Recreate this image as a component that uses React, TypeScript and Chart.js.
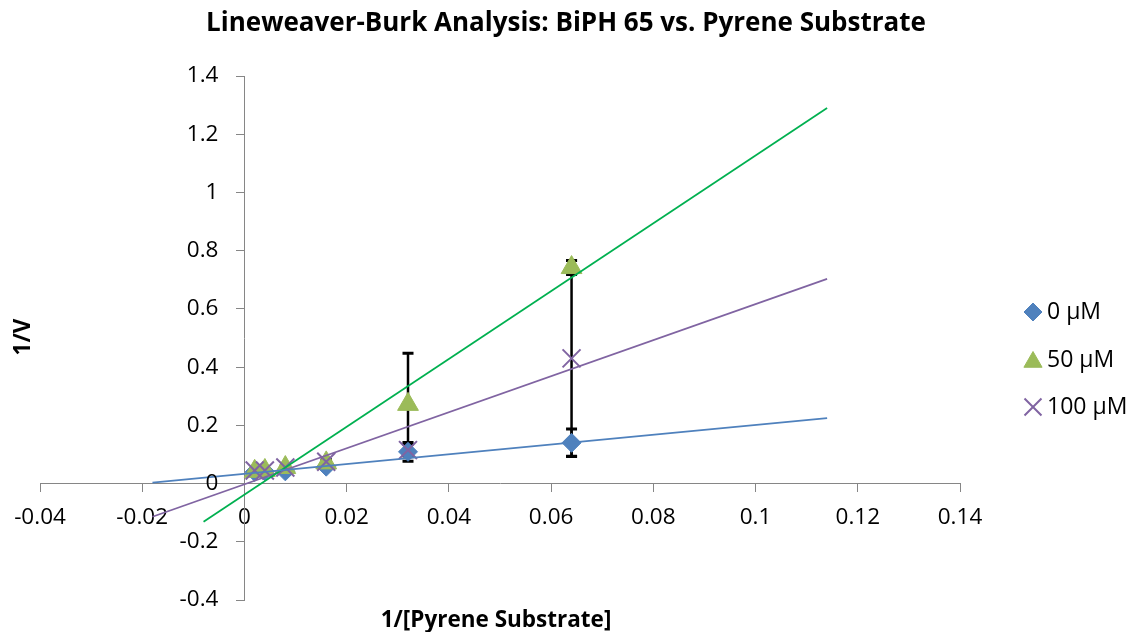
import React, { useEffect, useRef } from 'react';
import { Chart, registerables } from 'chart.js';
import { drawPoint } from 'chart.js/helpers';

Chart.register(...registerables);

// 1/[S] for each substrate concentration
const SUBSTRATE_INV = [0.002, 0.004, 0.008, 0.016, 0.032, 0.064];

// 1/V at each inhibitor concentration
const V_INV_0 = [0.040, 0.042, 0.042, 0.058, 0.109, 0.140];
const V_INV_50 = [0.042, 0.045, 0.055, 0.071, 0.272, 0.742];
const V_INV_100 = [0.045, 0.045, 0.055, 0.075, 0.115, 0.430];

// symmetric error (±) on 1/V
const ERR_0 = [0.003, 0.003, 0.004, 0.005, 0.032, 0.047];
const ERR_50 = [0.004, 0.004, 0.005, 0.008, 0.176, 0.024];
const ERR_100 = [0.004, 0.004, 0.005, 0.008, 0.020, 0.336];

// linear trendline end points (x range, fitted 1/V at each end)
const FIT_X_0 = [-0.018, 0.114];
const FIT_Y_0 = [0.003, 0.225];
const FIT_X_50 = [-0.008, 0.114];
const FIT_Y_50 = [-0.131, 1.29];
const FIT_X_100 = [-0.018, 0.114];
const FIT_Y_100 = [-0.114, 0.703];

const SERIES_NAMES = ['0 µM', '50 µM', '100 µM'];

const X_TICKS = [-0.04, -0.02, 0, 0.02, 0.04, 0.06, 0.08, 0.1, 0.12, 0.14];
const X_TICK_LABELS = ['-0.04', '-0.02', '0', '0.02', '0.04', '0.06', '0.08', '0.1', '0.12', '0.14'];
const Y_TICKS = [-0.4, -0.2, 0, 0.2, 0.4, 0.6, 0.8, 1, 1.2, 1.4];
const Y_TICK_LABELS = ['-0.4', '-0.2', '0', '0.2', '0.4', '0.6', '0.8', '1', '1.2', '1.4'];

const TITLE = 'Lineweaver-Burk Analysis: BiPH 65 vs. Pyrene Substrate';
const X_TITLE = '1/[Pyrene Substrate]';
const Y_TITLE = '1/V';

const FONT = '"Open Sans", "Noto Sans", sans-serif';
const AXIS_GREY = '#868686';

const BLUE = '#4F81BD';
const GREEN_MARK = '#9BBB59';
const GREEN_LINE = '#00B050';
const PURPLE = '#8064A2';

const TICK_LEN = 8;
const Y_LABEL_GAP = 18;

const toPoints = (xs: number[], ys: number[]) => xs.map((x, i) => ({ x, y: ys[i] }));

const MARKER_STYLES = [
  { pointStyle: 'rectRot', radius: 9.5, legendRadius: 9, color: BLUE, borderWidth: 1 },
  { pointStyle: 'triangle', radius: 12, legendRadius: 10.5, color: GREEN_MARK, borderWidth: 1 },
  { pointStyle: 'crossRot', radius: 12.7, legendRadius: 12, color: PURPLE, borderWidth: 2 },
];

const errorBarsPlugin = {
  id: 'errorBars',
  beforeDatasetsDraw(chart: any) {
    const { ctx, scales } = chart;
    const xs = scales.x;
    const ys = scales.y;
    ctx.save();
    ctx.strokeStyle = '#000';
    chart.data.datasets.forEach((ds: any) => {
      if (!ds.errors) return;
      ds.data.forEach((p: any, i: number) => {
        const e = ds.errors[i];
        const px = xs.getPixelForValue(p.x);
        const top = ys.getPixelForValue(p.y + e);
        const bot = ys.getPixelForValue(p.y - e);
        ctx.lineWidth = 2.5;
        ctx.beginPath();
        ctx.moveTo(px, top);
        ctx.lineTo(px, bot);
        ctx.stroke();
        ctx.lineWidth = 3;
        ctx.beginPath();
        ctx.moveTo(px - 5.5, top);
        ctx.lineTo(px + 5.5, top);
        ctx.moveTo(px - 5.5, bot);
        ctx.lineTo(px + 5.5, bot);
        ctx.stroke();
      });
    });
    ctx.restore();
  },
};

const textPlugin = {
  id: 'chartTexts',
  afterDraw(chart: any) {
    const { ctx, scales } = chart;
    ctx.save();
    ctx.fillStyle = '#000';
    ctx.textBaseline = 'middle';

    // y tick labels, right-aligned to the left of the y axis tick marks
    ctx.font = `22.5px ${FONT}`;
    ctx.textAlign = 'right';
    const axisX = scales.x.getPixelForValue(0);
    Y_TICKS.forEach((v, i) => {
      ctx.fillText(Y_TICK_LABELS[i], axisX - TICK_LEN - Y_LABEL_GAP, scales.y.getPixelForValue(v));
    });

    ctx.textAlign = 'center';
    ctx.font = `bold 26px ${FONT}`;
    ctx.fillText(TITLE, 566, 24);

    ctx.font = `bold 22.5px ${FONT}`;
    ctx.fillText(X_TITLE, 496, 621);

    ctx.save();
    ctx.translate(24, 337);
    ctx.rotate(-Math.PI / 2);
    ctx.fillText(Y_TITLE, 0, 0);
    ctx.restore();

    // legend
    const rows = [312, 360, 407];
    ctx.font = `23px ${FONT}`;
    ctx.textAlign = 'left';
    SERIES_NAMES.forEach((name, i) => {
      const st = MARKER_STYLES[i];
      ctx.fillStyle = st.color;
      ctx.strokeStyle = st.color;
      ctx.lineWidth = st.borderWidth;
      drawPoint(ctx, { pointStyle: st.pointStyle as any, radius: st.legendRadius, borderWidth: st.borderWidth, rotation: 0 }, 1033, rows[i] + (st.pointStyle === 'triangle' ? 2 : 0));
      ctx.fillStyle = '#000';
      ctx.fillText(name, 1047, rows[i]);
    });
    ctx.restore();
  },
};

export default function App() {
  const canvasRef = useRef<HTMLCanvasElement | null>(null);

  useEffect(() => {
    if (!canvasRef.current) return;
    const markerSeries = [V_INV_0, V_INV_50, V_INV_100];
    const errs = [ERR_0, ERR_50, ERR_100];
    const markerDatasets = markerSeries.map((ys, i) => {
      const st = MARKER_STYLES[i];
      return {
        label: SERIES_NAMES[i],
        data: toPoints(SUBSTRATE_INV, ys),
        errors: errs[i],
        showLine: false,
        pointStyle: st.pointStyle,
        pointRadius: st.radius,
        pointBackgroundColor: st.color,
        pointBorderColor: st.color,
        pointBorderWidth: st.borderWidth,
        order: 3 - i,
      };
    });
    const fits = [
      [FIT_X_0, FIT_Y_0, BLUE],
      [FIT_X_50, FIT_Y_50, GREEN_LINE],
      [FIT_X_100, FIT_Y_100, PURPLE],
    ] as [number[], number[], string][];
    const fitDatasets = fits.map(([fx, fy, color], i) => ({
      label: `Linear (${SERIES_NAMES[i]})`,
      data: toPoints(fx, fy),
      showLine: true,
      borderColor: color,
      borderWidth: 1.75,
      pointRadius: 0,
      order: 0,
    }));

    const chart = new Chart(canvasRef.current, {
      type: 'scatter',
      data: { datasets: [...markerDatasets, ...fitDatasets] as any },
      options: {
        responsive: false,
        animation: false,
        layout: { padding: { left: 40, top: 76, right: 174, bottom: 32 } },
        plugins: {
          legend: { display: false },
          tooltip: { enabled: false },
          title: { display: false },
        },
        scales: {
          x: {
            type: 'linear',
            min: -0.04,
            max: 0.14,
            position: { y: 0 } as any,
            afterBuildTicks: (scale: any) => {
              scale.ticks = X_TICKS.map((v) => ({ value: v }));
            },
            ticks: {
              autoSkip: false,
              maxRotation: 0,
              color: '#000',
              font: { family: FONT, size: 22.5 },
              padding: 13,
              callback: (v: any) => X_TICK_LABELS[X_TICKS.findIndex((t) => Math.abs(t - v) < 1e-9)],
            },
            grid: { drawOnChartArea: false, drawTicks: true, tickLength: TICK_LEN, color: AXIS_GREY },
            border: { display: true, color: AXIS_GREY, width: 1 },
          },
          y: {
            type: 'linear',
            min: -0.4,
            max: 1.4,
            position: { x: 0 } as any,
            afterBuildTicks: (scale: any) => {
              scale.ticks = Y_TICKS.map((v) => ({ value: v }));
            },
            ticks: { display: false },
            grid: { drawOnChartArea: false, drawTicks: true, tickLength: TICK_LEN, color: AXIS_GREY },
            border: { display: true, color: AXIS_GREY, width: 1 },
          },
        },
      },
      plugins: [errorBarsPlugin, textPlugin],
    });
    return () => chart.destroy();
  }, []);

  return (
    <div style={{ position: 'fixed', left: 0, top: 0, width: 1134, height: 632, background: '#fff' }}>
      <canvas ref={canvasRef} width={1134} height={632} style={{ display: 'block' }} />
    </div>
  );
}
